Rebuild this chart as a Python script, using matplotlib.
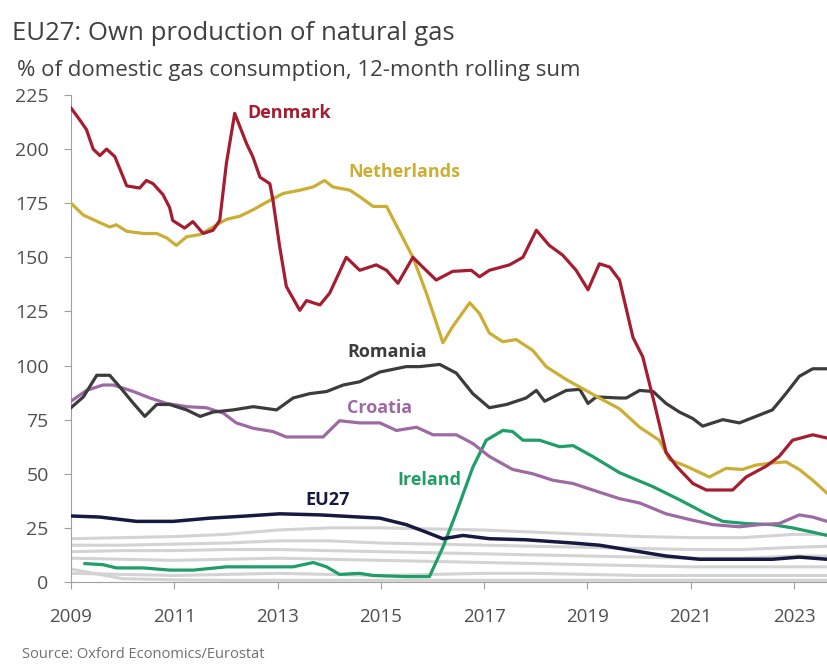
import matplotlib
matplotlib.use("Agg")
import matplotlib.pyplot as plt

plt.rcParams['font.family'] = ['Open Sans', 'DejaVu Sans']

# Denmark
dk_years = [2009.0, 2009.17, 2009.3, 2009.43, 2009.56, 2009.69, 2009.85, 2010.08, 2010.33, 2010.46,
            2010.59, 2010.78, 2010.91, 2010.97, 2011.2, 2011.36, 2011.56, 2011.75, 2011.88, 2012.01,
            2012.17, 2012.4, 2012.52, 2012.66, 2012.85, 2012.91, 2013.04, 2013.17, 2013.43, 2013.56,
            2013.82, 2014.01, 2014.33, 2014.59, 2014.91, 2015.11, 2015.33, 2015.62, 2015.81, 2016.07,
            2016.39, 2016.75, 2016.91, 2017.1, 2017.49, 2017.75, 2018.01, 2018.26, 2018.52, 2018.78,
            2019.01, 2019.23, 2019.43, 2019.62, 2019.88, 2020.07, 2020.3, 2020.52, 2020.72, 2021.04,
            2021.3, 2021.81, 2022.07, 2022.46, 2022.71, 2022.97, 2023.36, 2023.64]
dk_values = [219, 213.5, 209, 200, 197, 200, 196.5, 183, 182, 185.5,
             184, 179, 173, 167, 163.5, 166.5, 161, 162.5, 167, 193.5,
             216.5, 202.5, 196.5, 187, 184, 176.5, 155, 136.5, 125.5, 130,
             128, 133.5, 150, 144, 146.5, 144, 138, 150, 145.5, 139.5,
             143.5, 144, 141, 144, 146.5, 150, 162.5, 155.5, 151, 144,
             135, 147, 145.5, 139.5, 113, 104, 82, 60, 53.5, 45.5,
             42.5, 42.5, 48.5, 53.5, 58, 65.5, 68, 66.5]

# Netherlands
nl_years = [2009.0, 2009.24, 2009.56, 2009.75, 2009.88, 2010.08, 2010.4, 2010.66, 2010.85, 2011.04,
            2011.24, 2011.5, 2011.75, 2012.01, 2012.27, 2012.53, 2012.79, 2013.11, 2013.43, 2013.69,
            2013.91, 2014.07, 2014.4, 2014.59, 2014.85, 2015.11, 2015.36, 2015.62, 2015.88, 2016.14,
            2016.2, 2016.39, 2016.72, 2016.91, 2017.1, 2017.36, 2017.62, 2017.94, 2018.2, 2018.59,
            2018.97, 2019.23, 2019.62, 2020.01, 2020.39, 2020.59, 2020.91, 2021.36, 2021.68, 2022.0,
            2022.26, 2022.58, 2022.84, 2023.1, 2023.36, 2023.64]
nl_values = [175, 169.5, 166, 164, 165, 162, 161, 161, 159, 155.5,
             159.5, 160.5, 164, 167.5, 169, 172, 175.5, 179.5, 181, 182.5,
             185.5, 182.5, 181, 178, 173.5, 173.5, 162, 150, 133.5, 115,
             110.5, 118, 129, 124, 115, 111, 112, 107, 99.5, 93.5,
             88.5, 85, 80, 71.5, 65.5, 56.5, 53.5, 48.5, 52.5, 52,
             54, 55, 55.5, 52, 47, 41]

# Romania
ro_years = [2009.0, 2009.24, 2009.5, 2009.75, 2009.95, 2010.21, 2010.43, 2010.66, 2010.91, 2011.24,
            2011.5, 2011.75, 2012.14, 2012.53, 2012.98, 2013.3, 2013.62, 2013.95, 2014.27, 2014.59,
            2014.98, 2015.49, 2015.75, 2016.14, 2016.46, 2016.78, 2017.1, 2017.43, 2017.81, 2018.01,
            2018.17, 2018.59, 2018.85, 2019.01, 2019.17, 2019.62, 2019.75, 2020.01, 2020.27, 2020.52,
            2020.78, 2021.04, 2021.23, 2021.62, 2021.94, 2022.26, 2022.58, 2022.84, 2023.1, 2023.36,
            2023.64]
ro_values = [80.5, 85.5, 95.5, 95.5, 90, 82.5, 76.5, 82, 82, 79.5,
             76.5, 78.5, 79.5, 81, 79.5, 85, 87, 88, 91, 92.5,
             97, 99.5, 99.5, 100.5, 96.5, 87, 80.5, 82, 85, 88.5,
             83.5, 88.5, 89, 82.5, 85.5, 85, 85, 88.5, 88, 82.5,
             78.5, 75.5, 72, 75, 73.5, 76.5, 79.5, 87, 95, 98.5,
             98.5]

# Croatia
hr_years = [2009.0, 2009.3, 2009.62, 2009.82, 2010.21, 2010.53, 2010.85, 2011.24, 2011.62, 2011.95,
            2012.2, 2012.53, 2012.91, 2013.17, 2013.56, 2013.88, 2014.2, 2014.59, 2014.98, 2015.3,
            2015.69, 2016.01, 2016.46, 2016.78, 2017.1, 2017.55, 2017.94, 2018.33, 2018.72, 2019.1,
            2019.62, 2020.01, 2020.52, 2021.04, 2021.43, 2021.94, 2022.33, 2022.71, 2023.1, 2023.36,
            2023.64]
hr_values = [83.5, 88.5, 91, 91, 88, 85, 82.5, 81, 80.5, 78,
             73.5, 71, 69.5, 67, 67, 67, 74.5, 73.5, 73.5, 70,
             71.5, 68, 68, 64, 58, 52, 50, 47, 45.5, 42.5,
             38.5, 36.5, 31.5, 28.5, 26.5, 25.5, 26.5, 27, 31, 30,
             28]

# Ireland
ie_years = [2009.27, 2009.62, 2009.88, 2010.4, 2010.91, 2011.37, 2012.01, 2012.66, 2013.3, 2013.69,
            2013.95, 2014.2, 2014.59, 2014.85, 2015.49, 2015.94, 2016.2, 2016.46, 2016.78, 2017.04,
            2017.36, 2017.55, 2017.75, 2018.07, 2018.46, 2018.72, 2019.1, 2019.62, 2020.27, 2020.78,
            2021.3, 2021.62, 2022.07, 2022.58, 2022.97, 2023.36, 2023.64]
ie_values = [8.5, 8, 6.5, 6.5, 5.5, 5.5, 7, 7, 7, 9,
             7, 3.5, 4, 3, 2.5, 2.5, 16, 32, 53, 65.5,
             70, 69.5, 65.5, 65.5, 62.5, 63, 58, 50.5, 44, 38,
             31.5, 28, 27, 26.5, 25, 23, 21.5]

# EU27
eu_years = [2009.0, 2009.56, 2010.27, 2010.98, 2011.69, 2012.4, 2013.04, 2013.82, 2014.59, 2014.98,
            2015.49, 2015.88, 2016.2, 2016.59, 2017.1, 2017.81, 2018.72, 2019.23, 2019.62, 2019.88,
            2020.52, 2021.17, 2021.81, 2022.58, 2023.1, 2023.64]
eu_values = [30.5, 30, 28, 28, 29.5, 30.5, 31.5, 31, 30, 29.5,
             26.5, 23, 20, 21.5, 20, 19.5, 18, 17, 15.5, 14.5,
             12, 10.5, 10.5, 10.5, 11.5, 10.5]

# other EU producers, drawn in grey
grey_years = [2009, 2010, 2011, 2012, 2013, 2014, 2015, 2016, 2017, 2018, 2019, 2020, 2021, 2022, 2023, 2023.64]
grey_1 = [20, 20.5, 21, 22, 24, 25, 25, 24.5, 24, 23, 22, 21, 20.5, 20.5, 22, 22]
grey_2 = [17, 17, 17.5, 18, 19, 19, 18, 17.5, 17, 16.5, 16, 15.5, 15, 15, 16, 16.5]
grey_3 = [14, 14.5, 14.5, 15, 15, 14.5, 14, 13.5, 13, 12.5, 12, 11.5, 11, 11, 12, 12]
grey_4 = [11, 10.5, 10, 10.5, 11, 10.5, 10, 9.5, 9, 8.5, 8, 7.5, 7, 7, 7, 7]
grey_5 = [4, 3.5, 3, 3.5, 4, 3.5, 3, 3.5, 4, 4, 3.5, 3, 3, 3, 3, 3]
grey_6 = [6, 1.5, 1, 0.8, 0.8, 0.8, 0.8, 0.8, 0.8, 0.8, 0.8, 0.8, 0.8, 0.8, 0.8, 0.8]

fig = plt.figure(figsize=(8.28, 6.64), dpi=100)
ax = fig.add_axes([0.0857, 0.1235, 0.9133, 0.7335])

for g in [grey_1, grey_2, grey_3, grey_4, grey_5, grey_6]:
    ax.plot(grey_years, g, color='#d3d3d3', lw=2.2, zorder=1)

ax.plot(ie_years, ie_values, color='#1f9e68', lw=2.3, zorder=2)
ax.plot(eu_years, eu_values, color='#161a40', lw=2.5, zorder=3)
ax.plot(hr_years, hr_values, color='#9e6aa3', lw=2.3, zorder=3)
ax.plot(ro_years, ro_values, color='#3c3c3c', lw=2.3, zorder=3)
ax.plot(nl_years, nl_values, color='#cbae33', lw=2.3, zorder=4)
ax.plot(dk_years, dk_values, color='#a51d30', lw=2.3, zorder=5)

lab = dict(fontsize=13, fontweight='bold', ha='center', va='center')
ax.text(2013.22, 216.5, 'Denmark', color='#a51d30', **lab)
ax.text(2015.46, 189.5, 'Netherlands', color='#cbae33', **lab)
ax.text(2015.13, 106.3, 'Romania', color='#3c3c3c', **lab)
ax.text(2014.98, 80.4, 'Croatia', color='#9e6aa3', **lab)
ax.text(2015.94, 47.1, 'Ireland', color='#1f9e68', **lab)
ax.text(2013.97, 37.9, 'EU27', color='#161a40', **lab)

ax.set_xlim(2009, 2023.64)
ax.set_ylim(0, 225)
ax.set_yticks(range(0, 226, 25))
ax.set_xticks(range(2009, 2024, 2))

for s in ['top', 'right']:
    ax.spines[s].set_visible(False)
for s in ['left', 'bottom']:
    ax.spines[s].set_color('#a0a0a0')
    ax.spines[s].set_linewidth(0.8)
ax.tick_params(axis='both', colors='#a0a0a0', labelcolor='#505050', length=5)
ax.tick_params(axis='y', pad=11, labelsize=14)
ax.tick_params(axis='x', pad=14, labelsize=13.5)

fig.text(0.0145, 0.949, 'EU27: Own production of natural gas', fontsize=18.5,
         color='#404040', va='center', ha='left')
fig.text(0.02, 0.894, '% of domestic gas consumption, 12-month rolling sum', fontsize=16,
         color='#404040', va='center', ha='left')
fig.text(0.027, 0.0136, 'Source: Oxford Economics/Eurostat', fontsize=10.5,
         color='#707070', va='center', ha='left')

fig.savefig('out.png', dpi=100)
